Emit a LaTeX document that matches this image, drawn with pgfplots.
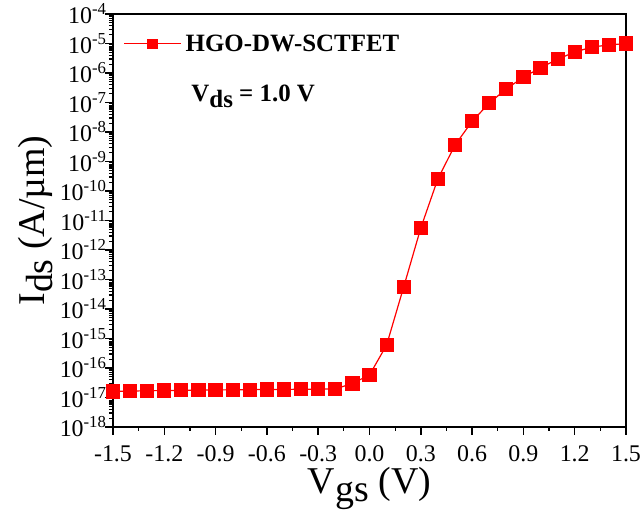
\documentclass[border=0pt]{standalone}
\usepackage{pgfplots}
\pgfplotsset{compat=1.18}
\usepackage{fontspec}
\setmainfont{Liberation Serif}
\begin{document}
\begin{tikzpicture}
\begin{axis}[
  scale only axis, width=513bp, height=413bp,
  ymode=log, log basis y=10,
  xmin=-1.5, xmax=1.5, ymin=1e-18, ymax=1e-4,
  xtick={-1.5,-1.2,-0.9,-0.6,-0.3,0,0.3,0.6,0.9,1.2,1.5},
  xticklabels={-1.5,-1.2,-0.9,-0.6,-0.3,0.0,0.3,0.6,0.9,1.2,1.5},
  minor xtick={-1.35,-1.05,-0.75,-0.45,-0.15,0.15,0.45,0.75,1.05,1.35},
  ytick={1e-18,1e-17,1e-16,1e-15,1e-14,1e-13,1e-12,1e-11,1e-10,1e-9,1e-8,1e-7,1e-6,1e-5,1e-4},
  yticklabels={10\textsuperscript{-18},10\textsuperscript{-17},10\textsuperscript{-16},10\textsuperscript{-15},10\textsuperscript{-14},10\textsuperscript{-13},10\textsuperscript{-12},10\textsuperscript{-11},10\textsuperscript{-10},10\textsuperscript{-9},10\textsuperscript{-8},10\textsuperscript{-7},10\textsuperscript{-6},10\textsuperscript{-5},10\textsuperscript{-4}},
  minor ytick={
   2e-18,3e-18,4e-18,5e-18,6e-18,7e-18,8e-18,9e-18,
   2e-17,3e-17,4e-17,5e-17,6e-17,7e-17,8e-17,9e-17,
   2e-16,3e-16,4e-16,5e-16,6e-16,7e-16,8e-16,9e-16,
   2e-15,3e-15,4e-15,5e-15,6e-15,7e-15,8e-15,9e-15,
   2e-14,3e-14,4e-14,5e-14,6e-14,7e-14,8e-14,9e-14,
   2e-13,3e-13,4e-13,5e-13,6e-13,7e-13,8e-13,9e-13,
   2e-12,3e-12,4e-12,5e-12,6e-12,7e-12,8e-12,9e-12,
   2e-11,3e-11,4e-11,5e-11,6e-11,7e-11,8e-11,9e-11,
   2e-10,3e-10,4e-10,5e-10,6e-10,7e-10,8e-10,9e-10,
   2e-9,3e-9,4e-9,5e-9,6e-9,7e-9,8e-9,9e-9,
   2e-8,3e-8,4e-8,5e-8,6e-8,7e-8,8e-8,9e-8,
   2e-7,3e-7,4e-7,5e-7,6e-7,7e-7,8e-7,9e-7,
   2e-6,3e-6,4e-6,5e-6,6e-6,7e-6,8e-6,9e-6,
   2e-5,3e-5,4e-5,5e-5,6e-5,7e-5,8e-5,9e-5},
  tick align=outside, xtick pos=bottom, ytick pos=left,
  axis line style={line width=2bp},
  major tick length=8bp, minor tick length=4bp,
  every tick/.style={black, line width=1.5bp},
  every minor tick/.style={black, line width=1.2bp},
  tick label style={font=\fontsize{24}{24}\selectfont},
  xticklabel style={yshift=-7bp},
  yticklabel style={xshift=5bp},
  /pgf/number format/assume math mode=true,
  xlabel={V\raisebox{-0.22em}{gs} (V)},
  ylabel={I\raisebox{-0.22em}{ds} (A/µm)},
  label style={font=\fontsize{38}{38}\selectfont},
  xlabel style={inner sep=0pt, yshift=-2bp},
  ylabel style={yshift=0bp},
  legend style={draw=none, fill=none, at={(0.02,0.955)}, anchor=north west,
    font=\fontsize{25}{25}\selectfont\bfseries, inner sep=0pt,
    nodes={inner xsep=4bp}},
  legend image code/.code={\draw[red, line width=1.2bp] (0bp,0bp) -- (57bp,0bp);
    \fill[red] (24bp,-4.5bp) rectangle (33bp,4.5bp);},
]
\addplot[red, line width=1.2bp, mark=square*, mark size=6.5bp, mark options={solid}] coordinates {
(-1.5,1.6e-17) (-1.4,1.65e-17) (-1.3,1.7e-17) (-1.2,1.72e-17) (-1.1,1.75e-17)
(-1.0,1.78e-17) (-0.9,1.8e-17) (-0.8,1.83e-17) (-0.7,1.85e-17) (-0.6,1.87e-17)
(-0.5,1.88e-17) (-0.4,1.9e-17) (-0.3,1.92e-17) (-0.2,1.95e-17) (-0.1,3.0e-17)
(0.0,5.8e-17) (0.1,6e-16) (0.2,5.6e-14) (0.3,5.6e-12) (0.4,2.6e-10)
(0.5,3.6e-9) (0.6,2.3e-8) (0.7,9.5e-8) (0.8,2.9e-7) (0.9,7.2e-7)
(1.0,1.5e-6) (1.1,2.95e-6) (1.2,5.1e-6) (1.3,7.6e-6) (1.4,8.9e-6) (1.5,1.0e-5)
};
\addlegendentry{HGO-DW-SCTFET}
\node[anchor=west, font=\fontsize{25}{25}\selectfont\bfseries] at (rel axis cs:0.146,0.80) {V\raisebox{-0.25em}{ds} = 1.0 V};
\end{axis}
\pgfresetboundingbox
\path (current axis.south west) ++(-113bp,-85bp) rectangle ++(643bp,512bp);
\end{tikzpicture}
\end{document}
